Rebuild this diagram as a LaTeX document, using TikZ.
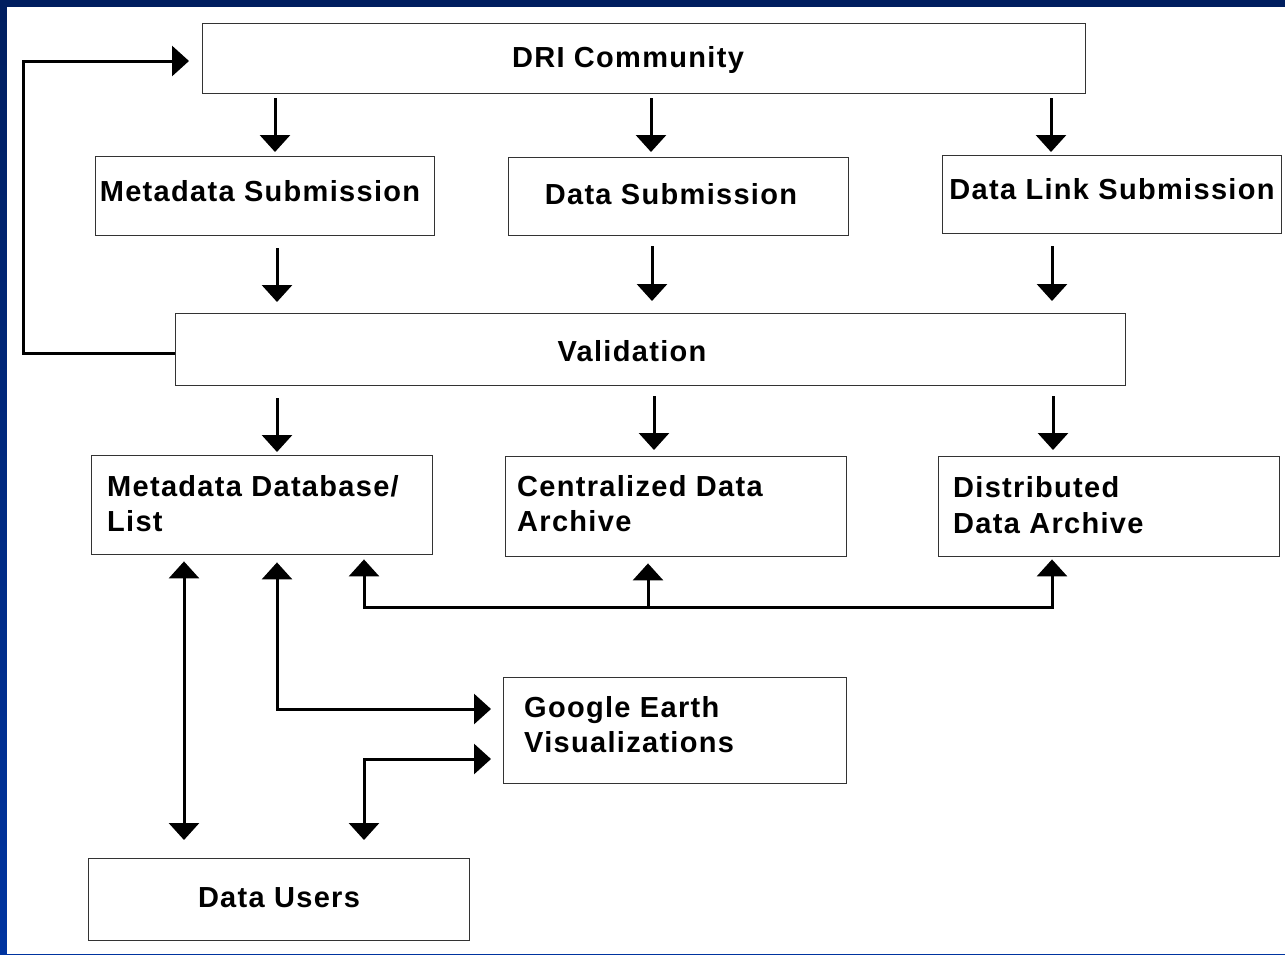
\documentclass[tikz,border=0pt]{standalone}
\usepackage{fontspec}
\setmainfont{Liberation Sans}[LetterSpace=4.5]
\usetikzlibrary{arrows.meta,calc}
\begin{document}
\begin{tikzpicture}[x=1pt,y=-1pt,
  box/.style={draw=black!80,line width=1.4pt,fill=white,rectangle,inner sep=0pt,anchor=north west},
  lbl/.style={font=\bfseries\fontsize{29}{35}\selectfont,inner sep=0pt,align=left},
  arr/.style={line width=3pt,-{Triangle[width=30pt,length=17pt]}},
  darr/.style={line width=3pt,{Triangle[width=30pt,length=17pt]}-{Triangle[width=30pt,length=17pt]}},
  ln/.style={line width=3pt}]
\useasboundingbox (0,0) rectangle (1285,954);
\shade[top color={rgb,255:red,0;green,30;blue,95},bottom color={rgb,255:red,0;green,52;blue,160}] (0,0) rectangle (1285,954);
\fill[white] (7,7) rectangle (1285,954);
% boxes
\node[box,minimum width=883pt,minimum height=70pt] (dri) at (202,23) {};
\node[box,minimum width=339pt,minimum height=79pt] (msub) at (95,156) {};
\node[box,minimum width=340pt,minimum height=78pt] (dsub) at (508,157) {};
\node[box,minimum width=339pt,minimum height=78pt] (lsub) at (942,155) {};
\node[box,minimum width=950pt,minimum height=72pt] (val) at (175,313) {};
\node[box,minimum width=341pt,minimum height=99pt] (mdb) at (91,455) {};
\node[box,minimum width=341pt,minimum height=100pt] (cda) at (505,456) {};
\node[box,minimum width=341pt,minimum height=100pt] (dda) at (938,456) {};
\node[box,minimum width=343pt,minimum height=106pt] (ge) at (503,677) {};
\node[box,minimum width=381pt,minimum height=82pt] (du) at (88,858) {};
% labels
\node[lbl,anchor=base] (tdri) at (628,67) {DRI Community};
\node[lbl,anchor=base] (tmsub) at (260,201) {Metadata Submission};
\node[lbl,anchor=base] (tdsub) at (671,204) {Data Submission};
\node[lbl,anchor=base] (tlsub) at (1112,199) {Data Link Submission};
\node[lbl,anchor=base] (tval) at (632,361) {Validation};
\node[lbl,anchor=base west] (tmdb1) at (107,496) {Metadata Database/};
\node[lbl,anchor=base west] (tmdb2) at (107,531) {List};
\node[lbl,anchor=base west] (tcda1) at (517,496) {Centralized Data};
\node[lbl,anchor=base west] (tcda2) at (517,531) {Archive};
\node[lbl,anchor=base west] (tdda1) at (953,497) {Distributed};
\node[lbl,anchor=base west] (tdda2) at (953,533) {Data Archive};
\node[lbl,anchor=base west] (tge1) at (524,717) {Google Earth};
\node[lbl,anchor=base west] (tge2) at (524,752) {Visualizations};
\node[lbl,anchor=base] (tdu) at (279,907) {Data Users};
% arrows DRI -> submissions
\draw[arr] ([yshift=-4pt]dri.south -| 275,0) -- ([yshift=4pt]msub.north -| 275,0);
\draw[arr] ([yshift=-4pt]dri.south -| 651,0) -- ([yshift=5pt]dsub.north -| 651,0);
\draw[arr] ([yshift=-4pt]dri.south -| 1051,0) -- ([yshift=3pt]lsub.north -| 1051,0);
% submissions -> validation
\draw[arr] ([yshift=-12pt]msub.south -| 277,0) -- ([yshift=11pt]val.north -| 277,0);
\draw[arr] ([yshift=-10pt]dsub.south -| 652,0) -- ([yshift=12pt]val.north -| 652,0);
\draw[arr] ([yshift=-12pt]lsub.south -| 1052,0) -- ([yshift=12pt]val.north -| 1052,0);
% validation -> archives
\draw[arr] ([yshift=-12pt]val.south -| 277,0) -- ([yshift=3pt]mdb.north -| 277,0);
\draw[arr] ([yshift=-10pt]val.south -| 654,0) -- ([yshift=6pt]cda.north -| 654,0);
\draw[arr] ([yshift=-10pt]val.south -| 1053,0) -- ([yshift=6pt]dda.north -| 1053,0);
% feedback
\coordinate (fb1) at (23,353);
\coordinate (fb2) at (23,61);
\draw[arr] (val.west |- fb1) -- (fb1) -- (fb2) -- ([xshift=-13pt]dri.west |- fb2);
% metadata db <-> data users
\draw[darr] ([yshift=-6pt]mdb.south -| 184,0) -- ([yshift=18pt]du.north -| 184,0);
% metadata db <-> google earth
\coordinate (g1) at (277,709);
\draw[{Triangle[width=30pt,length=17pt]}-{Triangle[width=30pt,length=17pt]},line width=3pt] ([yshift=-7pt]mdb.south -| g1) -- (g1) -- ([xshift=-12pt]ge.west |- g1);
% data users <-> google earth
\coordinate (g2) at (364,759);
\draw[darr] ([yshift=18pt]du.north -| g2) -- (g2) -- ([xshift=-12pt]ge.west |- g2);
% archives interconnect
\coordinate (h1) at (364,607);
\coordinate (h2) at (1052,607);
\coordinate (h3) at (648,607);
\draw[darr] ([yshift=-4pt]mdb.south -| h1) -- (h1) -- (h2) -- ([yshift=-2pt]dda.south -| h2);
\draw[arr] (h3) -- ([yshift=-6pt]cda.south -| h3);
\end{tikzpicture}
\end{document}
